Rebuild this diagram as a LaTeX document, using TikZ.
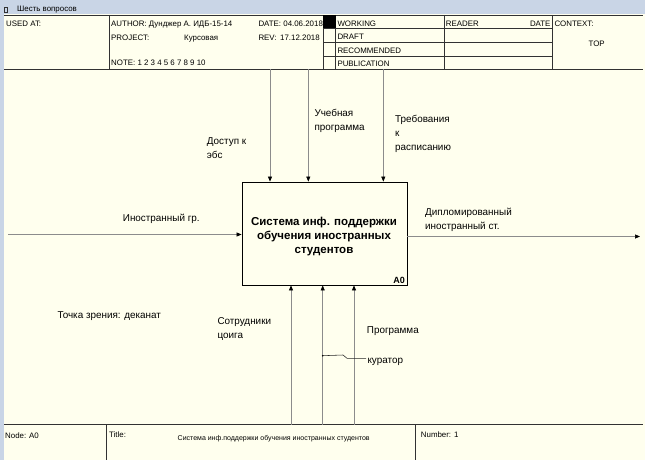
\documentclass[tikz,border=0pt]{standalone}
\usepackage{fontspec}
\setmainfont{Liberation Sans}
\usetikzlibrary{arrows.meta}
\definecolor{bg}{RGB}{255,255,238}
\definecolor{bar}{RGB}{201,213,230}
\definecolor{arr}{RGB}{140,140,140}
\definecolor{frame}{RGB}{50,50,50}
\begin{document}
\begin{tikzpicture}[x=1pt,y=-1pt,
  hdr/.style={font=\fontsize{7.9}{9}\selectfont, anchor=base west, inner sep=0pt},
  lbl/.style={font=\fontsize{9.9}{14}\selectfont, anchor=base west, inner sep=0pt, align=left},
  flow/.style={draw=arr, line width=0.7pt, -{Triangle[length=5pt,width=4pt,color=black]}},
  rule/.style={draw=frame, line width=0.7pt}]
\useasboundingbox (0,0) rectangle (645,460);
% background
\fill[bg] (0,0) rectangle (645,460);
\fill[bar] (0,0) rectangle (645,14.5);
\fill[bar] (0,0) rectangle (4,460);
\draw[draw=frame, line width=0.5pt] (4.5,7) rectangle (7.5,12);
\node[hdr] (win) at (17,11.3) {Шесть вопросов};
% header frame
\draw[rule] (4,15) -- (643,15);
\draw[rule] (4,69.5) -- (643,69.5);
\draw[rule] (109.5,15) -- (109.5,69.5);
\draw[rule] (323.3,15) -- (323.3,69.5);
\draw[rule] (335.7,15) -- (335.7,69.5);
\draw[rule] (444,15) -- (444,69.5);
\draw[rule] (552,15) -- (552,69.5);
\draw[rule] (323.3,28.3) -- (552,28.3);
\draw[rule] (323.3,42.3) -- (552,42.3);
\draw[rule] (323.3,56.7) -- (552,56.7);
\fill[black] (323.3,15) rectangle (335.7,28.3);
% header text
\node[hdr] (used) at (6,26.7) {USED AT:};
\node[hdr] (author) at (111,26.7) {AUTHOR: Дунджер А. ИДБ-15-14};
\node[hdr] (project) at (111,41) {PROJECT:};
\node[hdr] (kurs) at (184,41) {Курсовая};
\node[hdr] (note) at (111,66) {NOTE: 1 2 3 4 5 6 7 8 9 10};
\node[hdr] (date) at (258.3,26.7) {DATE: 04.06.2018};
\node[hdr] (rev) at (258.3,41) {REV:};
\node[hdr] (revd) at (280,41) {17.12.2018};
\node[hdr] (working) at (337.3,27) {WORKING};
\node[hdr] (draft) at (337.3,40) {DRAFT};
\node[hdr] (recom) at (337.3,54) {RECOMMENDED};
\node[hdr] (publ) at (337.3,66.3) {PUBLICATION};
\node[hdr] (reader) at (445.7,27) {READER};
\node[hdr, anchor=base east] (rdate) at (550.7,27) {DATE};
\node[hdr] (context) at (554.3,27) {CONTEXT:};
\node[hdr, anchor=base] (top) at (596.7,46.7) {TOP};
% footer
\draw[rule] (4,424.5) -- (643,424.5);
\draw[rule] (106.7,424.5) -- (106.7,460);
\draw[rule] (415,424.5) -- (415,460);
\node[hdr] (nodea0) at (5,438) {Node: A0};
\node[hdr] (ttl) at (109,437.5) {Title:};
\node[hdr, anchor=base, font=\fontsize{7}{9}\selectfont] (ttltext) at (273.7,440) {Система инф.поддержки обучения иностранных студентов};
\node[hdr] (number) at (420.7,437.5) {Number: 1};
% main box
\node[draw=black, line width=0.8pt, minimum width=165pt, minimum height=103pt, inner sep=0pt] (box) at (324.5,233.5) {};
\node[font=\fontsize{11.5}{14}\selectfont\bfseries, align=center, anchor=base, inner sep=0pt] (boxtext) at (324,253) {Система инф. поддержки\\обучения иностранных\\студентов};
\node[font=\fontsize{9}{10}\selectfont\bfseries, anchor=base east, inner sep=0pt] (a0) at (405,283.5) {A0};
% controls
\coordinate (c1) at (270,69.5);
\coordinate (c2) at (308.3,69.5);
\coordinate (c3) at (383.3,69.5);
\draw[flow] (c1) -- (c1 |- box.north);
\draw[flow] (c2) -- (c2 |- box.north);
\draw[flow] (c3) -- (c3 |- box.north);
% mechanisms
\coordinate (m1) at (291,424.5);
\coordinate (m2) at (322.7,424.5);
\coordinate (m3) at (354,424.5);
\draw[flow] (m1) -- (m1 |- box.south);
\draw[flow] (m2) -- (m2 |- box.south);
\draw[flow] (m3) -- (m3 |- box.south);
% input / output
\coordinate (in1) at (8,234.5);
\draw[flow] (in1) -- (in1 -| box.west);
\coordinate (out1) at (640,236.5);
\draw[flow] (out1 -| box.east) -- (out1);
% labels (anchor = baseline of last line)
\node[lbl] (linput) at (122.7,221.5) {Иностранный гр.};
\node[lbl] (loutput) at (425,229.5) {Дипломированный\\иностранный ст.};
\node[lbl] (lc1) at (206.7,158) {Доступ к\\эбс};
\node[lbl] (lc2) at (314.3,130.5) {Учебная\\программа};
\node[lbl] (lc3) at (395,150) {Требования\\к\\расписанию};
\node[lbl] (lm1) at (217.3,338) {Сотрудники\\цоига};
\node[lbl] (lm3) at (366.7,333.5) {Программа};
\node[lbl] (lm2) at (367.3,363.3) {куратор};
\node[lbl] (view) at (57.3,318.3) {Точка зрения: деканат};
% squiggle tie for curator
\coordinate (sq0) at (m2 |- 0,355.7);
\coordinate (sq3) at (366,358.3);
\draw[black!85, line width=0.55pt] (sq0) -- (343,355) -- (347,358.3) -- (sq3);
\fill[black] (sq0) circle (0.9pt);
\end{tikzpicture}
\end{document}
